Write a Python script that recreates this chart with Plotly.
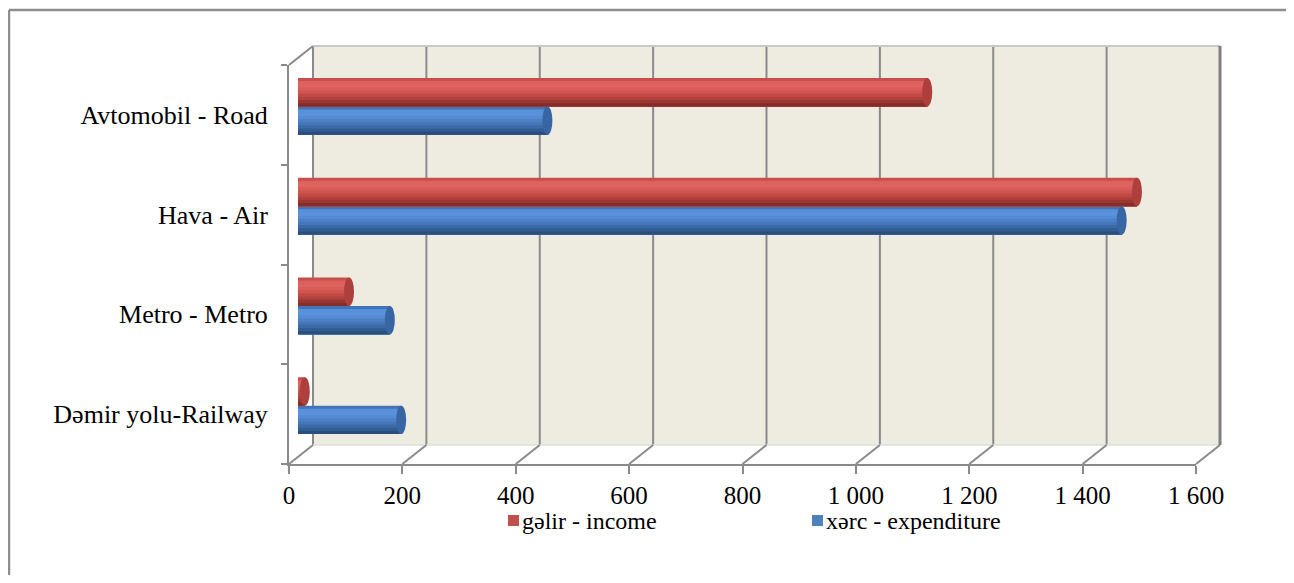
import plotly.graph_objects as go

# ---------------- data ----------------
categories = ["Dəmir yolu-Railway", "Metro - Metro", "Hava - Air", "Avtomobil - Road"]
income = [12, 90, 1480, 1110]
expenditure = [182, 162, 1453, 440]
tick_values = [0, 200, 400, 600, 800, 1000, 1200, 1400, 1600]
tick_labels = ["0", "200", "400", "600", "800", "1 000", "1 200", "1 400", "1 600"]
series_names = ["gəlir - income", "xərc - expenditure"]
series_colors = ["#c0504d", "#4f81bd"]

# ---------------- geometry helpers (page pixels -> paper) ----------------
PAGE_OFF = 8                      # default body margin of the html page
W, H = 1294 - 2 * PAGE_OFF, 583 - 2 * PAGE_OFF
def px(x):
    return (x - PAGE_OFF) / W
def py(y):
    return 1 - (y - PAGE_OFF) / H

X_MAX = tick_values[-1]
FRONT_L, FRONT_R, FRONT_Y = 289, 1196, 464
BACK_L, BACK_R, BACK_T, BACK_B = 313, 1220, 46, 445
LEFT_TOP = 65
BAR_L = 298
SHIFT = 8.5
FONT = "Liberation Serif, Times New Roman, serif"
AX_COL = "#8a8a8a"

red_bands = ['#c64f4c', '#dd615d', '#df635e', '#d95c58', '#cf5450', '#c24a46', '#b2403d', '#9c3633', '#852d2b']
blue_bands = ['#4474b8', '#5891d9', '#5a93db', '#548bd3', '#4c81c7', '#4476b8', '#3b6aa6', '#325d93', '#2a4f7f']
BAR_W = 0.285
pos = list(range(len(categories)))

fig = go.Figure()

# front axes carrier (invisible, keeps the labelled axes drawn)
fig.add_trace(go.Scatter(x=[tick_values[0]], y=[pos[0]], xaxis='x', yaxis='y', mode='markers',
                         marker=dict(size=1, opacity=0), hoverinfo='skip', showlegend=False))

def add_cylinder(values, bands, top, name):
    n = len(bands)
    bw = BAR_W / n
    for i, c in enumerate(bands):
        band_top = top - i * bw
        height = BAR_W - i * bw
        fig.add_trace(go.Bar(
            x=values, y=pos, orientation='h', xaxis='x2', yaxis='y2',
            offset=band_top - height, width=height, base=0,
            marker=dict(color=c, line=dict(width=0)),
            name=name, showlegend=False, hoverinfo='skip'))

add_cylinder(expenditure, blue_bands, 0.0, series_names[1])
add_cylinder(income, red_bands, BAR_W, series_names[0])

shapes = []
# outer border (left and top)
shapes.append(dict(type='line', xref='paper', yref='paper', x0=px(9), x1=px(9), y0=py(10), y1=0,
                   line=dict(color='#8e8e8e', width=2.5)))
shapes.append(dict(type='line', xref='paper', yref='paper', x0=px(9), x1=1, y0=py(10), y1=py(10),
                   line=dict(color='#8e8e8e', width=2.5)))
# back wall fill
shapes.append(dict(type='rect', xref='paper', yref='paper', x0=px(BACK_L), x1=px(BACK_R),
                   y0=py(BACK_B), y1=py(BACK_T), fillcolor='#EEECE1', line=dict(width=0), layer='below'))
# back wall gridlines
for v in tick_values[:-1]:
    xb = BACK_L + (BACK_R - BACK_L) * v / X_MAX
    shapes.append(dict(type='line', xref='paper', yref='paper', x0=px(xb), x1=px(xb),
                       y0=py(BACK_B), y1=py(BACK_T), line=dict(color=AX_COL, width=2), layer='below'))
# back wall edges
shapes.append(dict(type='line', xref='paper', yref='paper', x0=px(BACK_L), x1=px(BACK_R), y0=py(BACK_T), y1=py(BACK_T),
                   line=dict(color='#c8c8c8', width=2), layer='below'))
shapes.append(dict(type='line', xref='paper', yref='paper', x0=px(BACK_L), x1=px(BACK_R), y0=py(BACK_B), y1=py(BACK_B),
                   line=dict(color='#dedede', width=1.5), layer='below'))
shapes.append(dict(type='line', xref='paper', yref='paper', x0=px(BACK_R), x1=px(BACK_R), y0=py(BACK_T), y1=py(BACK_B),
                   line=dict(color='#7f7f7f', width=3), layer='below'))
# left wall top diagonal
shapes.append(dict(type='line', xref='paper', yref='paper', x0=px(FRONT_L), x1=px(BACK_L), y0=py(LEFT_TOP), y1=py(BACK_T),
                   line=dict(color=AX_COL, width=2), layer='below'))
# floor diagonals at each tick
for v in tick_values:
    xf = FRONT_L + (FRONT_R - FRONT_L) * v / X_MAX
    xb = BACK_L + (BACK_R - BACK_L) * v / X_MAX
    shapes.append(dict(type='line', xref='paper', yref='paper', x0=px(xf), x1=px(xb), y0=py(FRONT_Y), y1=py(BACK_B),
                       line=dict(color=AX_COL, width=2), layer='below'))
# cylinder end caps
cap_half = 5 * X_MAX / (FRONT_R - FRONT_L)
for p, v in zip(pos, income):
    shapes.append(dict(type='circle', xref='x2', yref='y2', x0=v - cap_half, x1=v + cap_half,
                       y0=p, y1=p + BAR_W, fillcolor='#ad403d', line=dict(width=0)))
for p, v in zip(pos, expenditure):
    shapes.append(dict(type='circle', xref='x2', yref='y2', x0=v - cap_half, x1=v + cap_half,
                       y0=p - BAR_W, y1=p, fillcolor='#3866a5', line=dict(width=0)))

# legend (squares + text)
annotations = []
legend_x = [508, 812]
LEG_Y = 521
for name, col, lx in zip(series_names, series_colors, legend_x):
    shapes.append(dict(type='rect', xref='paper', yref='paper', x0=px(lx), x1=px(lx + 11),
                       y0=py(LEG_Y + 5), y1=py(LEG_Y - 6), fillcolor=col, line=dict(width=0)))
    annotations.append(dict(text=name, xref='paper', yref='paper', x=px(lx + 12), y=py(LEG_Y),
                            xanchor='left', yanchor='middle', showarrow=False,
                            font=dict(family=FONT, size=24, color='black')))

fig.update_layout(
    width=W, height=H,
    margin=dict(l=0, r=0, t=0, b=0, autoexpand=False),
    paper_bgcolor='white', plot_bgcolor='rgba(0,0,0,0)',
    barmode='overlay',
    font=dict(family=FONT, size=25, color='black'),
    showlegend=False,
    # front (labelled) axes
    xaxis=dict(domain=[px(FRONT_L), px(FRONT_R)], range=[0, X_MAX], tickvals=tick_values, ticktext=tick_labels,
               showgrid=False, zeroline=False, showline=True, linecolor=AX_COL, linewidth=2,
               ticks='outside', ticklen=8, tickwidth=2, tickcolor=AX_COL, anchor='y', automargin=False,
               ticklabelstandoff=0, tickfont=dict(size=25), fixedrange=True),
    yaxis=dict(domain=[py(FRONT_Y), py(LEFT_TOP)], range=[-0.5, len(categories) - 0.5],
               tickvals=pos, ticktext=categories, showgrid=False, zeroline=False,
               showline=True, linecolor=AX_COL, linewidth=2, ticks='', anchor='x', automargin=False,
               minor=dict(ticks='outside', tick0=0.5, dtick=1, ticklen=6, tickwidth=2, tickcolor=AX_COL),
               ticklabelstandoff=14, tickfont=dict(size=26), fixedrange=True),
    # bars subplot
    xaxis2=dict(domain=[px(BAR_L), px(BAR_L + FRONT_R - FRONT_L)], range=[0, X_MAX], visible=False,
                anchor='y2', automargin=False, fixedrange=True),
    yaxis2=dict(domain=[py(FRONT_Y - SHIFT), py(LEFT_TOP - SHIFT)], range=[-0.5, len(categories) - 0.5],
                visible=False, anchor='x2', automargin=False, fixedrange=True),
    shapes=shapes,
    annotations=annotations,
)

fig.write_html("out.html")
